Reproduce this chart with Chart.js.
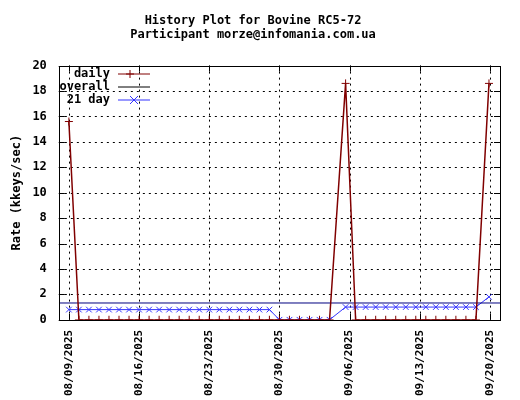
<!DOCTYPE html>
<html>
<head>
<meta charset="utf-8">
<script src="https://cdn.jsdelivr.net/npm/chart.js@4/dist/chart.umd.min.js"></script>
<style>
  body { margin: 0; background: #fff; }
  #wrap { width: 520px; height: 400px; }
</style>
</head>
<body>
<div id="wrap"><canvas id="c" width="520" height="400"></canvas></div>
<script>
// days counted from 08/09/2025
const startDate = new Date(2025, 7, 9);
const tickDays = [0, 7, 14, 21, 28, 35, 42];

const dailyX = [0,1,2,3,4,5,6,7,8,9,10,11,12,13,14,15,16,17,18,19,20,21,22,23,24,25,26,27.6,28.6,29.6,30.6,31.6,32.6,33.6,34.6,35.6,36.6,37.6,38.6,39.6,40.6,41.9];
const dailyY = [15.6,0,0,0,0,0,0,0,0,0,0,0,0,0,0,0,0,0,0,0,0,0,0,0,0,0,0,18.6,0,0,0,0,0,0,0,0,0,0,0,0,0,18.6];

const avgX = [0,1,2,3,4,5,6,7,8,9,10,11,12,13,14,15,16,17,18,19,20,21,22,23,24,25,26,27.6,28.6,29.6,30.6,31.6,32.6,33.6,34.6,35.6,36.6,37.6,38.6,39.6,40.6,41.9];
const avgY = [0.8,0.8,0.8,0.8,0.8,0.8,0.8,0.8,0.8,0.8,0.8,0.8,0.8,0.8,0.8,0.8,0.8,0.8,0.8,0.8,0.8,0,0,0,0,0,0,1.0,1.0,1.0,1.0,1.0,1.0,1.0,1.0,1.0,1.0,1.0,1.0,1.0,1.0,1.8];

const overallX = [-1, 43];
const overallY = [1.32, 1.32];

const pts = (xs, ys) => xs.map((x, i) => ({x: x, y: ys[i]}));
const fmt = d => {
  const t = new Date(startDate.getTime() + d * 86400000);
  const p = n => String(n).padStart(2, '0');
  return p(t.getMonth() + 1) + '/' + p(t.getDate()) + '/' + t.getFullYear();
};
const FONT = "'DejaVu Sans Mono', 'Liberation Mono', monospace";

// dotted gnuplot grid, drawn under the data
const gridPlugin = {
  id: 'dotgrid',
  beforeDatasetsDraw(chart) {
    const ctx = chart.ctx, a = chart.chartArea;
    const xs = chart.scales.x, ys = chart.scales.y;
    ctx.save();
    ctx.strokeStyle = '#000';
    ctx.lineWidth = 1;
    ctx.setLineDash([2, 4]);
    ctx.beginPath();
    xs.ticks.forEach(t => {
      const px = Math.round(xs.getPixelForValue(t.value)) + 0.5;
      ctx.moveTo(px, a.top); ctx.lineTo(px, a.bottom);
    });
    ys.ticks.forEach(t => {
      const py = Math.round(ys.getPixelForValue(t.value)) + 0.5;
      ctx.moveTo(a.left, py); ctx.lineTo(a.right, py);
    });
    ctx.stroke();
    ctx.setLineDash([]);
    // inward tick marks
    ctx.beginPath();
    xs.ticks.forEach(t => {
      const px = Math.round(xs.getPixelForValue(t.value)) + 0.5;
      ctx.moveTo(px, a.bottom); ctx.lineTo(px, a.bottom - 6);
      ctx.moveTo(px, a.top); ctx.lineTo(px, a.top + 6);
    });
    ys.ticks.forEach(t => {
      const py = Math.round(ys.getPixelForValue(t.value)) + 0.5;
      ctx.moveTo(a.left, py); ctx.lineTo(a.left + 6, py);
      ctx.moveTo(a.right, py); ctx.lineTo(a.right - 6, py);
    });
    ctx.stroke();
    ctx.restore();
  }
};

// gnuplot-like key drawn inside the plot
const keyPlugin = {
  id: 'key',
  afterDraw(chart) {
    const ctx = chart.ctx;
    const items = [
      {label: 'daily', color: '#800000', mark: '+'},
      {label: 'overall', color: '#000000', mark: null},
      {label: '21 day', color: '#3333ff', mark: 'x'}
    ];
    ctx.save();
    ctx.font = 'bold 12px ' + FONT;
    ctx.textAlign = 'right';
    ctx.textBaseline = 'middle';
    items.forEach((it, i) => {
      const y = 74 + i * 13;
      ctx.fillStyle = '#000';
      ctx.fillText(it.label, 110, y);
      ctx.strokeStyle = it.color;
      ctx.lineWidth = 1;
      ctx.beginPath(); ctx.moveTo(118, y); ctx.lineTo(150, y); ctx.stroke();
      ctx.beginPath();
      if (it.mark === '+') {
        ctx.moveTo(130, y - 4); ctx.lineTo(130, y + 4);
        ctx.moveTo(126, y); ctx.lineTo(134, y);
      } else if (it.mark === 'x') {
        ctx.moveTo(130, y - 4); ctx.lineTo(138, y + 4);
        ctx.moveTo(138, y - 4); ctx.lineTo(130, y + 4);
      }
      ctx.stroke();
    });
    const a = chart.chartArea;
    ctx.strokeStyle = '#000';
    ctx.strokeRect(Math.round(a.left) + 0.5, Math.round(a.top) + 0.5,
                   Math.round(a.right - a.left), Math.round(a.bottom - a.top));
    ctx.restore();
  }
};

new Chart(document.getElementById('c'), {
  type: 'line',
  data: {
    datasets: [
      {label: 'daily', data: pts(dailyX, dailyY), borderColor: '#800000', borderWidth: 1.5,
       pointStyle: 'cross', pointRadius: 4, pointBorderColor: '#800000', pointBorderWidth: 1, tension: 0},
      {label: 'overall', data: pts(overallX, overallY), borderColor: '#000080', borderWidth: 1,
       pointRadius: 0, tension: 0},
      {label: '21 day', data: pts(avgX, avgY), borderColor: '#3333ff', borderWidth: 1,
       pointStyle: 'crossRot', pointRadius: 4, pointBorderColor: '#3333ff', pointBorderWidth: 1, tension: 0}
    ]
  },
  options: {
    responsive: false,
    animation: false,
    layout: {padding: {top: 12, right: 20, left: 6, bottom: 2}},
    plugins: {
      legend: {display: false},
      tooltip: {enabled: false},
      title: {
        display: true,
        text: ['History Plot for Bovine RC5-72', 'Participant morze@infomania.com.ua'],
        color: '#000',
        font: {family: FONT, size: 12, weight: 'bold', lineHeight: 1.15},
        padding: {top: 2, bottom: 24}
      }
    },
    scales: {
      x: {
        type: 'linear', min: -1, max: 43,
        afterBuildTicks: s => { s.ticks = tickDays.map(v => ({value: v})); },
        ticks: {color: '#000', font: {family: FONT, size: 11, weight: 'bold'},
                maxRotation: 90, minRotation: 90, callback: v => fmt(v), autoSkip: false, padding: 2},
        grid: {display: false},
        border: {display: false}
      },
      y: {
        min: 0, max: 20,
        ticks: {stepSize: 2, color: '#000', font: {family: FONT, size: 12, weight: 'bold'}, padding: 4},
        grid: {display: false},
        border: {display: false},
        title: {display: true, text: 'Rate (kkeys/sec)', color: '#000',
                font: {family: FONT, size: 12, weight: 'bold'}}
      }
    }
  },
  plugins: [gridPlugin, keyPlugin]
});
</script>
</body>
</html>
